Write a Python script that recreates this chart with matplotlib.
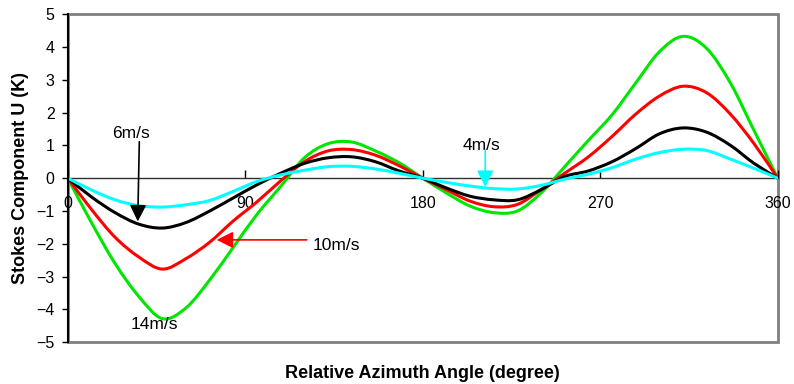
import matplotlib
matplotlib.use("Agg")
import matplotlib.pyplot as plt
from matplotlib.patches import Rectangle, PathPatch
from matplotlib.path import Path

plt.rcParams['font.family'] = ['Liberation Sans', 'DejaVu Sans']

# Relative azimuth angle (degree)
angles = [0, 12, 24, 36, 48, 60, 72, 84, 96, 108, 120, 132, 144, 156, 168, 180,
          192, 204, 216, 228, 240, 252, 264, 276, 288, 300, 312, 324, 336, 348, 360]

# Stokes U (K) for each wind speed
u_4ms = [0, -0.36, -0.66, -0.84, -0.88, -0.81, -0.68, -0.40, -0.10, 0.10, 0.24, 0.35, 0.36, 0.28, 0.15, 0,
         -0.13, -0.24, -0.32, -0.33, -0.22, -0.03, 0.12, 0.32, 0.58, 0.78, 0.88, 0.84, 0.58, 0.30, 0]
u_6ms = [0, -0.57, -1.05, -1.40, -1.52, -1.35, -1.00, -0.60, -0.20, 0.15, 0.45, 0.62, 0.65, 0.50, 0.22, 0,
         -0.30, -0.55, -0.66, -0.66, -0.35, 0.05, 0.22, 0.50, 0.90, 1.35, 1.53, 1.40, 1.00, 0.45, 0]
u_10ms = [0, -0.95, -1.80, -2.40, -2.77, -2.45, -1.95, -1.30, -0.72, -0.08, 0.50, 0.83, 0.87, 0.70, 0.38, 0,
          -0.35, -0.70, -0.87, -0.80, -0.35, 0.15, 0.65, 1.27, 1.95, 2.50, 2.80, 2.60, 1.95, 1.05, 0]
u_14ms = [0, -1.35, -2.60, -3.60, -4.28, -3.95, -3.10, -2.10, -1.10, -0.25, 0.62, 1.05, 1.10, 0.83, 0.47, 0,
          -0.45, -0.85, -1.05, -1.00, -0.45, 0.35, 1.15, 1.93, 2.90, 3.85, 4.32, 3.95, 2.90, 1.45, 0]

x_ticks = [0, 90, 180, 270, 360]
y_ticks = [-5, -4, -3, -2, -1, 0, 1, 2, 3, 4, 5]


def smooth_path(xs, ys):
    """Smoothed line through the points (cubic Bezier, Catmull-Rom tangents)."""
    pts = list(zip(xs, ys))
    n = len(pts)
    verts = [pts[0]]
    codes = [Path.MOVETO]
    for i in range(n - 1):
        p0 = pts[i - 1] if i > 0 else pts[i]
        p1 = pts[i]
        p2 = pts[i + 1]
        p3 = pts[i + 2] if i + 2 < n else pts[i + 1]
        c1 = (p1[0] + (p2[0] - p0[0]) / 6.0, p1[1] + (p2[1] - p0[1]) / 6.0)
        c2 = (p2[0] - (p3[0] - p1[0]) / 6.0, p2[1] - (p3[1] - p1[1]) / 6.0)
        verts += [c1, c2, p2]
        codes += [Path.CURVE4] * 3
    return Path(verts, codes)


fig = plt.figure(figsize=(7.94, 3.84), dpi=100)
ax = fig.add_axes([0.0853, 0.1086, 0.8942, 0.8549])

lw = 2.2
for ys, col in [(u_14ms, '#00e600'), (u_10ms, '#ff0000'),
                (u_6ms, '#000000'), (u_4ms, '#00ffff')]:
    ax.add_patch(PathPatch(smooth_path(angles, ys), fill=False, edgecolor=col,
                           lw=lw, capstyle='round', joinstyle='round', zorder=3))

ax.set_xlim(0, 360)
ax.set_ylim(-5, 5)

# grey plot-area frame
ax.add_patch(Rectangle((0, 0), 1, 1, transform=ax.transAxes, fill=False,
                       edgecolor='#808080', lw=2, clip_on=False, zorder=1))

for s in ['top', 'right']:
    ax.spines[s].set_visible(False)
ax.spines['left'].set_color('black')
ax.spines['left'].set_linewidth(1.5)
ax.spines['left'].set_zorder(4)
ax.spines['bottom'].set_position(('data', 0))
ax.spines['bottom'].set_color('#303030')
ax.spines['bottom'].set_linewidth(1.0)

ax.set_xticks(x_ticks)
ax.set_yticks(y_ticks)
ax.tick_params(axis='x', direction='in', length=6, width=1, pad=13, labelsize=11.5, colors='black')
ax.tick_params(axis='y', direction='out', length=4.5, width=1, pad=5, labelsize=11.5)

ax.set_xlabel('Relative Azimuth Angle (degree)', fontsize=13, fontweight='bold')
ax.xaxis.set_label_coords(0.5, -0.068)
ax.set_ylabel('Stokes Component U (K)', fontsize=13, fontweight='bold')
ax.yaxis.set_label_coords(-0.055, 0.5)

arrow_kw = dict(arrowstyle='-|>,head_length=0.4,head_width=0.2', mutation_scale=25,
                lw=1.2, shrinkA=0, shrinkB=0)

# speed labels with pointers
ax.text(32.1, 1.35, '6m/s', ha='center', va='center', fontsize=12.5)
ax.annotate('', xy=(35.5, -1.32), xytext=(36.3, 1.11),
            arrowprops=dict(color='black', **arrow_kw), zorder=5)

ax.text(136, -2.06, '10m/s', ha='center', va='center', fontsize=12.5)
ax.annotate('', xy=(75.5, -1.88), xytext=(121.2, -1.88),
            arrowprops=dict(color='#ff0000', **arrow_kw), zorder=5)

ax.text(43.8, -4.47, '14m/s', ha='center', va='center', fontsize=12.5)

ax.text(209.6, 1.01, '4m/s', ha='center', va='center', fontsize=12.5)
ax.annotate('', xy=(211.7, -0.27), xytext=(211.7, 0.86),
            arrowprops=dict(color='#00ffff', **arrow_kw), zorder=5)

fig.savefig('out.png', dpi=100)
